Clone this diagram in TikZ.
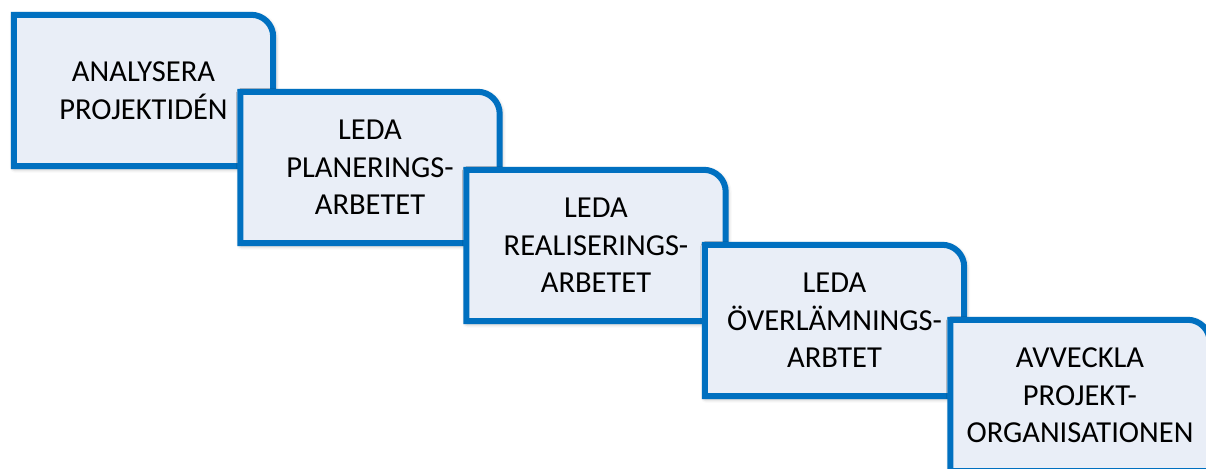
\documentclass[tikz,border=0pt]{standalone}
\usepackage{fontspec}
\setmainfont{Carlito}
\usetikzlibrary{backgrounds,shadows.blur}
\definecolor{tabline}{RGB}{0,112,192}
\definecolor{tabfill}{RGB}{233,238,247}
\tikzset{
  stepbox/.style={minimum width=259pt, minimum height=151pt, inner sep=0pt,
    align=center, font=\fontsize{30.5}{37.5}\selectfont, text=black},
  taboutline/.style={draw=tabline, line width=6pt, fill=tabfill, line join=miter,
    blur shadow={shadow xshift=1pt, shadow yshift=-1.5pt,
      shadow blur radius=5pt, shadow opacity=45}},
}
% outline with a single rounded top-right corner, drawn behind a step node
\newcommand\tabframe[1]{%
  \begin{scope}[on background layer]
    \path[taboutline] (#1.south west) -- (#1.north west)
      -- ([xshift=-22pt]#1.north east) arc[start angle=90, end angle=0, radius=22pt]
      -- (#1.south east) -- cycle;
  \end{scope}}
\begin{document}
\begin{tikzpicture}
  \useasboundingbox (0,0) rectangle (1206pt,-468pt);
  \node[stepbox] (s1) at (143.5pt,-90.5pt) {ANALYSERA\\PROJEKTIDÉN};
  \tabframe{s1}
  \node[stepbox] (s2) at (370pt,-167.5pt) {LEDA\\PLANERINGS-\\ARBETET};
  \tabframe{s2}
  \node[stepbox] (s3) at (596pt,-245.5pt) {LEDA\\REALISERINGS-\\ARBETET};
  \tabframe{s3}
  \node[stepbox] (s4) at (834.5pt,-320.5pt) {LEDA\\ÖVERLÄMNINGS-\\ARBTET};
  \tabframe{s4}
  \node[stepbox] (s5) at (1080pt,-395.5pt) {AVVECKLA\\PROJEKT-\\ORGANISATIONEN};
  \tabframe{s5}
\end{tikzpicture}
\end{document}
